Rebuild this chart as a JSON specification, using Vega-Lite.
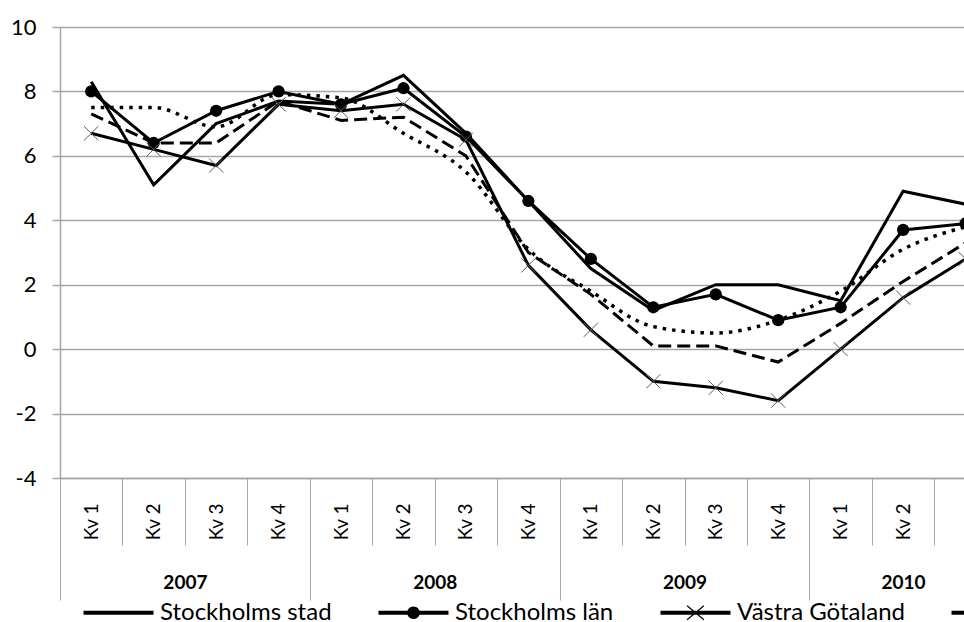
{
  "$schema": "https://vega.github.io/schema/vega-lite/v6.json",
  "width": 904,
  "height": 451,
  "padding": {"left": 60, "top": 27, "right": 0, "bottom": 144},
  "autosize": {"type": "none"},
  "config": {"view": {"stroke": null}, "font": "Lato"},
  "data": {"values": [
    {"series": "Stockholms stad", "idx": 1, "value": 8.3},
    {"series": "Stockholms stad", "idx": 2, "value": 5.1},
    {"series": "Stockholms stad", "idx": 3, "value": 7.0},
    {"series": "Stockholms stad", "idx": 4, "value": 7.7},
    {"series": "Stockholms stad", "idx": 5, "value": 7.6},
    {"series": "Stockholms stad", "idx": 6, "value": 8.5},
    {"series": "Stockholms stad", "idx": 7, "value": 6.7},
    {"series": "Stockholms stad", "idx": 8, "value": 4.6},
    {"series": "Stockholms stad", "idx": 9, "value": 2.5},
    {"series": "Stockholms stad", "idx": 10, "value": 1.2},
    {"series": "Stockholms stad", "idx": 11, "value": 2.0},
    {"series": "Stockholms stad", "idx": 12, "value": 2.0},
    {"series": "Stockholms stad", "idx": 13, "value": 1.5},
    {"series": "Stockholms stad", "idx": 14, "value": 4.9},
    {"series": "Stockholms stad", "idx": 15, "value": 4.5},
    {"series": "Stockholms län", "idx": 1, "value": 8.0},
    {"series": "Stockholms län", "idx": 2, "value": 6.4},
    {"series": "Stockholms län", "idx": 3, "value": 7.4},
    {"series": "Stockholms län", "idx": 4, "value": 8.0},
    {"series": "Stockholms län", "idx": 5, "value": 7.6},
    {"series": "Stockholms län", "idx": 6, "value": 8.1},
    {"series": "Stockholms län", "idx": 7, "value": 6.6},
    {"series": "Stockholms län", "idx": 8, "value": 4.6},
    {"series": "Stockholms län", "idx": 9, "value": 2.8},
    {"series": "Stockholms län", "idx": 10, "value": 1.3},
    {"series": "Stockholms län", "idx": 11, "value": 1.7},
    {"series": "Stockholms län", "idx": 12, "value": 0.9},
    {"series": "Stockholms län", "idx": 13, "value": 1.3},
    {"series": "Stockholms län", "idx": 14, "value": 3.7},
    {"series": "Stockholms län", "idx": 15, "value": 3.9},
    {"series": "Västra Götaland", "idx": 1, "value": 6.7},
    {"series": "Västra Götaland", "idx": 2, "value": 6.2},
    {"series": "Västra Götaland", "idx": 3, "value": 5.7},
    {"series": "Västra Götaland", "idx": 4, "value": 7.6},
    {"series": "Västra Götaland", "idx": 5, "value": 7.4},
    {"series": "Västra Götaland", "idx": 6, "value": 7.6},
    {"series": "Västra Götaland", "idx": 7, "value": 6.5},
    {"series": "Västra Götaland", "idx": 8, "value": 2.6},
    {"series": "Västra Götaland", "idx": 9, "value": 0.6},
    {"series": "Västra Götaland", "idx": 10, "value": -1.0},
    {"series": "Västra Götaland", "idx": 11, "value": -1.2},
    {"series": "Västra Götaland", "idx": 12, "value": -1.6},
    {"series": "Västra Götaland", "idx": 13, "value": 0.0},
    {"series": "Västra Götaland", "idx": 14, "value": 1.6},
    {"series": "Västra Götaland", "idx": 15, "value": 2.8},
    {"series": "Skåne", "idx": 1, "value": 7.3},
    {"series": "Skåne", "idx": 2, "value": 6.4},
    {"series": "Skåne", "idx": 3, "value": 6.4},
    {"series": "Skåne", "idx": 4, "value": 7.7},
    {"series": "Skåne", "idx": 5, "value": 7.1},
    {"series": "Skåne", "idx": 6, "value": 7.2},
    {"series": "Skåne", "idx": 7, "value": 6.0},
    {"series": "Skåne", "idx": 8, "value": 3.0},
    {"series": "Skåne", "idx": 9, "value": 1.7},
    {"series": "Skåne", "idx": 10, "value": 0.1},
    {"series": "Skåne", "idx": 11, "value": 0.1},
    {"series": "Skåne", "idx": 12, "value": -0.4},
    {"series": "Skåne", "idx": 13, "value": 0.8},
    {"series": "Skåne", "idx": 14, "value": 2.1},
    {"series": "Skåne", "idx": 15, "value": 3.3},
    {"series": "Riket", "idx": 1, "value": 7.5},
    {"series": "Riket", "idx": 2, "value": 7.5},
    {"series": "Riket", "idx": 3, "value": 6.9},
    {"series": "Riket", "idx": 4, "value": 7.9},
    {"series": "Riket", "idx": 5, "value": 7.8},
    {"series": "Riket", "idx": 6, "value": 6.7},
    {"series": "Riket", "idx": 7, "value": 5.5},
    {"series": "Riket", "idx": 8, "value": 3.1},
    {"series": "Riket", "idx": 9, "value": 1.8},
    {"series": "Riket", "idx": 10, "value": 0.7},
    {"series": "Riket", "idx": 11, "value": 0.5},
    {"series": "Riket", "idx": 12, "value": 0.9},
    {"series": "Riket", "idx": 13, "value": 1.8},
    {"series": "Riket", "idx": 14, "value": 3.1},
    {"series": "Riket", "idx": 15, "value": 3.8}
  ]},
  "layer": [
    {
      "transform": [{"filter": "indexof(['Stockholms stad','Stockholms län','Västra Götaland'], datum.series) >= 0"}],
      "mark": {"type": "line", "color": "black", "strokeWidth": 3, "clip": true},
      "encoding": {
        "x": {"field": "idx", "type": "quantitative",
          "scale": {"domain": [0.5, 14.975], "nice": false, "zero": false},
          "axis": {"orient": "bottom", "title": null, "values": [0.5,1.5,2.5,3.5,4.5,5.5,6.5,7.5,8.5,9.5,10.5,11.5,12.5,13.5,14.5],
            "labels": false, "grid": false, "ticks": true, "tickSize": 67, "tickColor": "#a6a6a6", "tickWidth": 1,
            "domain": true, "domainColor": "#a6a6a6", "domainWidth": 1.5}},
        "y": {"field": "value", "type": "quantitative",
          "scale": {"domain": [-4, 10], "nice": false, "zero": false},
          "axis": {"orient": "left", "title": null, "values": [-4,-2,0,2,4,6,8,10], "grid": true, "gridColor": "#a6a6a6", "gridWidth": 1.5,
            "domain": true, "domainColor": "#a6a6a6", "domainWidth": 1.5, "ticks": true, "tickColor": "#a6a6a6", "tickSize": 8, "tickWidth": 1.5,
            "labels": true, "labelExpr": "datum.value < 0 ? '-' + abs(datum.value) : '' + datum.value",
            "labelFontSize": 22, "labelColor": "#000000", "labelPadding": 16, "labelFlush": false, "labelFont": "Lato"}},
        "detail": {"field": "series", "type": "nominal"}
      }
    },
    {
      "transform": [{"filter": "datum.series === 'Skåne'"}],
      "mark": {"type": "line", "color": "black", "strokeWidth": 3, "strokeDash": [13, 6], "clip": true},
      "encoding": {
        "x": {"field": "idx", "type": "quantitative",
          "axis": {"orient": "bottom", "title": null, "values": [2.5, 6.5, 10.5, 14],
            "labelExpr": "datum.value == 2.5 ? '2007' : datum.value == 6.5 ? '2008' : datum.value == 10.5 ? '2009' : '2010'",
            "ticks": false, "tickSize": 0, "domain": false, "grid": false, "labelFontSize": 19, "labelFontWeight": "bold",
            "labelPadding": 95, "labelColor": "#000000", "labelFlush": false, "labelOverlap": false, "labelFont": "Lato"}},
        "y": {"field": "value", "type": "quantitative", "axis": null}
      }
    },
    {
      "transform": [{"filter": "datum.series === 'Riket'"}],
      "mark": {"type": "line", "color": "black", "strokeWidth": 3.5, "strokeDash": [3.5, 6], "interpolate": "monotone", "clip": true},
      "encoding": {
        "x": {"field": "idx", "type": "quantitative", "axis": null},
        "y": {"field": "value", "type": "quantitative", "axis": null}
      }
    },
    {
      "transform": [{"filter": "datum.series === 'Stockholms län'"}],
      "mark": {"type": "point", "shape": "circle", "filled": true, "size": 150, "color": "black", "opacity": 1, "clip": true},
      "encoding": {
        "x": {"field": "idx", "type": "quantitative",
          "axis": {"orient": "bottom", "title": null, "values": [1,2,3,4,5,6,7,8,9,10,11,12,13,14,15],
            "labelExpr": "'Kv ' + ((datum.value - 1) % 4 + 1)", "labelAngle": -90,
            "labelFontSize": 19, "labelPadding": 25, "ticks": false, "tickSize": 0, "domain": false, "grid": false,
            "labelFlush": false, "labelOverlap": false, "labelBound": false, "labelColor": "#000000", "labelFont": "Lato"}},
        "y": {"field": "value", "type": "quantitative", "axis": null}
      }
    },
    {
      "transform": [{"filter": "datum.series === 'Västra Götaland'"}],
      "mark": {"type": "point", "shape": "M-1,-1L1,1M-1,1L1,-1", "filled": false, "size": 200, "color": "#595959", "strokeWidth": 1, "opacity": 1, "clip": true},
      "encoding": {
        "x": {"field": "idx", "type": "quantitative",
          "axis": {"orient": "bottom", "title": null, "values": [0.5, 4.5, 8.5, 12.5], "labels": false,
            "tickSize": 122, "tickColor": "#a6a6a6", "tickWidth": 1, "domain": false, "grid": false}},
        "y": {"field": "value", "type": "quantitative", "axis": null}
      }
    },
    {
      "transform": [{"filter": "false"}],
      "mark": {"type": "point", "filled": true, "color": "black"},
      "encoding": {
        "x": {"field": "idx", "type": "quantitative", "axis": null},
        "y": {"field": "value", "type": "quantitative", "axis": null},
        "shape": {"field": "series", "type": "nominal",
          "scale": {
            "domain": ["Stockholms stad", "Stockholms län", "Västra Götaland", "Skåne", "Riket"],
            "range": [
              "M-1,-0.06H1V0.06H-1Z",
              "M-1,-0.06H1V0.06H-1ZM-0.18,0A0.18,0.18 0 1,1 0.18,0A0.18,0.18 0 1,1 -0.18,0Z",
              "M-1,-0.06H1V0.06H-1ZM-0.2291,-0.2131L0.2509,0.1869L0.2291,0.2131L-0.2509,-0.1869ZM-0.2509,0.1869L0.2291,-0.2131L0.2509,-0.1869L-0.2291,0.2131Z",
              "M-1,-0.06H-0.63V0.06H-1ZM-0.46,-0.06H-0.09V0.06H-0.46ZM0.09,-0.06H0.46V0.06H0.09ZM0.63,-0.06H1V0.06H0.63Z",
              "M-1,-0.05H-0.9V0.05H-1ZM-0.73,-0.05H-0.63V0.05H-0.73ZM-0.46,-0.05H-0.36V0.05H-0.46ZM-0.19,-0.05H-0.09V0.05H-0.19ZM0.08,-0.05H0.18V0.05H0.08ZM0.35,-0.05H0.45V0.05H0.35ZM0.62,-0.05H0.72V0.05H0.62ZM0.89,-0.05H0.99V0.05H0.89Z"
            ]
          },
          "legend": {"orient": "none", "legendX": 23, "legendY": 550, "direction": "horizontal", "title": null,
            "labelFont": "Lato", "labelFontSize": 24, "labelColor": "#000000", "labelLimit": 400,
            "symbolSize": 4900, "symbolStrokeWidth": 1, "symbolOpacity": 1, "symbolFillColor": "black", "symbolStrokeColor": "black",
            "labelOffset": 6, "columnPadding": 44, "padding": 0}
        }
      }
    }
  ],
  "resolve": {"axis": {"x": "independent", "y": "independent"}}
}
